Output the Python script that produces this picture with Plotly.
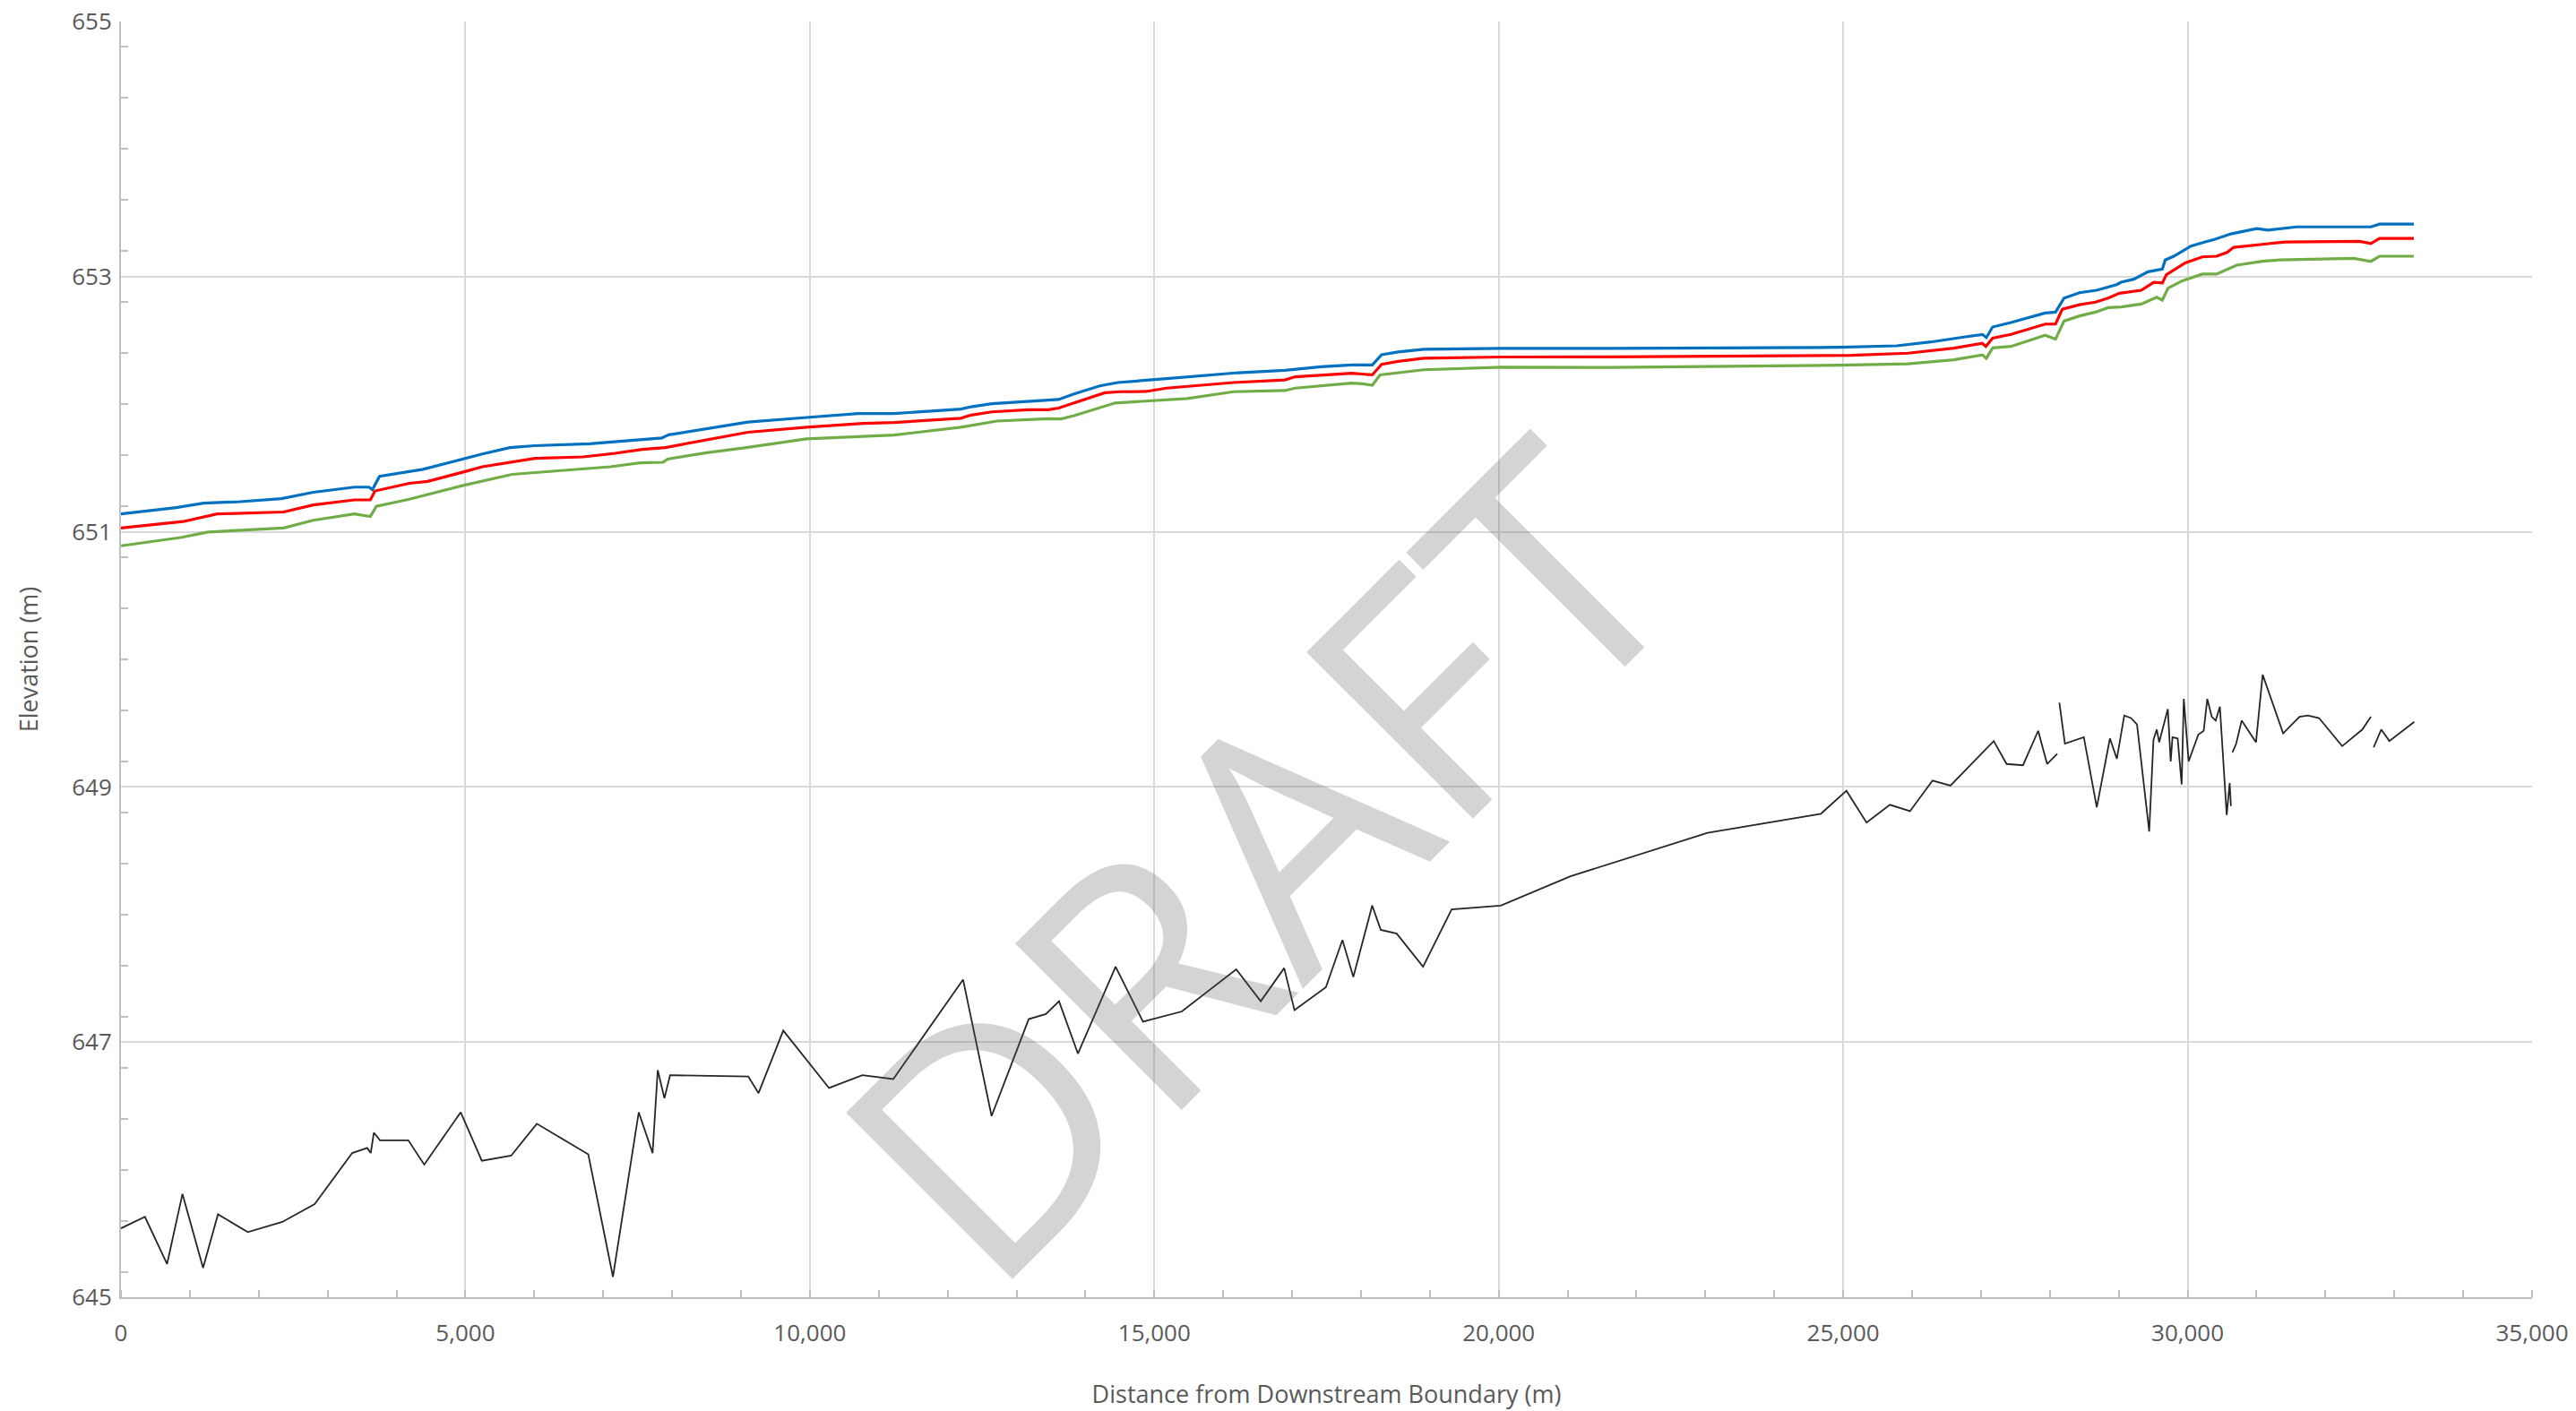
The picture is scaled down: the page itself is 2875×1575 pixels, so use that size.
import plotly.graph_objects as go

# ---------------- data ----------------
blue_x = [0, 800, 1198, 1729, 2326, 2791, 3388, 3600, 3650, 3753,
          4384, 4981, 5246, 5645, 6000, 6800, 7500, 7850, 7950, 8500,
          9100, 9952, 10699, 11221, 12192, 12341, 12640, 13610, 13834, 14208,
          14469, 15178, 16223, 16895, 17418, 17866, 18165, 18299, 18538, 18911,
          20031, 21628, 24946, 25776, 26273, 26771, 27020, 27078, 27169, 27435,
          27932, 28082, 28206, 28430, 28679, 28969, 29035, 29218, 29425, 29633,
          29674, 29799, 30048, 30255, 30379, 30628, 31001, 31167, 31582, 32660,
          32785, 33283]
blue_y = [651.14, 651.19, 651.225, 651.236, 651.26, 651.31, 651.35, 651.35, 651.33, 651.435,
          651.49, 651.576, 651.61, 651.66, 651.675, 651.69, 651.72, 651.735, 651.76, 651.81,
          651.86, 651.896, 651.927, 651.927, 651.962, 651.98, 652.004, 652.037, 652.08, 652.144,
          652.17, 652.20, 652.247, 652.266, 652.294, 652.308, 652.308, 652.388, 652.41, 652.43,
          652.437, 652.437, 652.446, 652.458, 652.488, 652.528, 652.547, 652.523, 652.605, 652.64,
          652.715, 652.722, 652.832, 652.874, 652.893, 652.937, 652.956, 652.98, 653.038, 653.06,
          653.13, 653.16, 653.24, 653.272, 653.29, 653.335, 653.377, 653.365, 653.39, 653.39,
          653.412, 653.412]

red_x = [0, 900, 1397, 2360, 2791, 3388, 3620, 3687, 4185, 4450,
         4981, 5246, 6010, 6706, 7171, 7569, 7900, 8500, 9100, 9952,
         10773, 11221, 12192, 12341, 12640, 13162, 13461, 13610, 13834, 14282,
         14506, 14880, 15178, 16149, 16895, 17045, 17866, 18165, 18299, 18538,
         18911, 20031, 21628, 25112, 25941, 26605, 27020, 27070, 27169, 27435,
         27932, 28082, 28181, 28430, 28662, 28845, 29010, 29326, 29508, 29633,
         29691, 29965, 30213, 30421, 30570, 30669, 31084, 31416, 32495, 32660,
         32785, 33283]
red_y = [651.03, 651.08, 651.14, 651.155, 651.21, 651.25, 651.25, 651.32, 651.38, 651.395,
         651.47, 651.51, 651.576, 651.587, 651.615, 651.646, 651.66, 651.72, 651.78, 651.82,
         651.85, 651.857, 651.89, 651.915, 651.94, 651.957, 651.957, 651.97, 652.01, 652.09,
         652.098, 652.10, 652.126, 652.17, 652.19, 652.215, 652.243, 652.23, 652.313, 652.336,
         652.36, 652.37, 652.371, 652.383, 652.40, 652.44, 652.477, 652.453, 652.518, 652.547,
         652.628, 652.628, 652.745, 652.78, 652.80, 652.832, 652.87, 652.893, 652.956, 652.95,
         653.015, 653.108, 653.155, 653.16, 653.19, 653.23, 653.253, 653.272, 653.277, 653.26,
         653.30, 653.30]

green_x = [0, 867, 1265, 2360, 2791, 3388, 3620, 3707, 4185, 4583,
           4981, 5678, 6043, 7105, 7536, 7868, 7934, 8498, 9029, 9952,
           11221, 12192, 12714, 13461, 13648, 13834, 14432, 15029, 15477, 16149,
           16895, 17045, 17717, 17866, 18016, 18165, 18277, 18538, 18911, 20031,
           21628, 24946, 25941, 26605, 27020, 27078, 27169, 27435, 27932, 28082,
           28206, 28430, 28662, 28845, 29035, 29326, 29550, 29633, 29716, 29923,
           30213, 30421, 30587, 30711, 31084, 31333, 32412, 32660, 32785, 33283]
green_y = [650.89, 650.955, 650.998, 651.03, 651.09, 651.14, 651.12, 651.20, 651.255, 651.31,
           651.365, 651.45, 651.466, 651.51, 651.54, 651.545, 651.57, 651.62, 651.657, 651.728,
           651.758, 651.82, 651.868, 651.887, 651.885, 651.91, 652.01, 652.027, 652.044, 652.098,
           652.107, 652.126, 652.154, 652.165, 652.16, 652.149, 652.23, 652.247, 652.27, 652.29,
           652.289, 652.306, 652.317, 652.348, 652.387, 652.36, 652.441, 652.453, 652.54, 652.51,
           652.652, 652.692, 652.722, 652.757, 652.762, 652.785, 652.839, 652.816, 652.91, 652.968,
           653.02, 653.02, 653.06, 653.09, 653.12, 653.131, 653.143, 653.12, 653.16, 653.16]

bed_x = [0, 348, 669, 893, 1192, 1408, 1841, 2342, 2812, 3357,
         3574, 3626, 3671, 3760, 4171, 4402, 4932, 5238, 5664, 6037,
         6784, 7142, 7516, 7717, 7792, 7889, 7971, 9106, 9255, 9614,
         10278, 10763, 11211, 12224, 12638, 13177, 13426, 13617, 13891, 14438,
         14836, 15400, 16189, 16545, 16885, 17035, 17491, 17731, 17889, 18163,
         18287, 18519, 18901, 19316, 20029, 21041, 23032, 24677, 25047, 25339,
         25678, 25969, 26297, 26557, 27185, 27372, 27610, 27830, 27960, 28107,
         None,
         28138, 28218, 28493, 28681, 28872, 28972, 29080, 29177, 29265, 29442,
         29504, 29552, 29587, 29655, 29712, 29754, 29780, 29855, 29913, 29944,
         30014, 30155, 30233, 30285, 30350, 30407, 30468, 30567, 30610, 30628,
         None,
         30650, 30705, 30784, 30992, 31089, 31386, 31623, 31746, 31907, 32243,
         32536, 32660,
         None,
         32700, 32810, 32928, 33290]
bed_y = [645.54, 645.63, 645.26, 645.81, 645.23, 645.65, 645.51, 645.59, 645.73, 646.13,
         646.17, 646.13, 646.29, 646.23, 646.23, 646.04, 646.45, 646.07, 646.11, 646.36,
         646.12, 645.16, 646.45, 646.13, 646.78, 646.56, 646.74, 646.73, 646.60, 647.09,
         646.64, 646.74, 646.71, 647.49, 646.42, 647.18, 647.22, 647.32, 646.91, 647.59,
         647.16, 647.24, 647.57, 647.32, 647.58, 647.25, 647.43, 647.80, 647.51, 648.07,
         647.88, 647.85, 647.59, 648.04, 648.07, 648.30, 648.64, 648.79, 648.97, 648.72,
         648.86, 648.81, 649.05, 649.01, 649.36, 649.18, 649.17, 649.44, 649.18, 649.26,
         None,
         649.66, 649.34, 649.39, 648.84, 649.38, 649.22, 649.56, 649.54, 649.49, 648.65,
         649.37, 649.45, 649.35, 649.50, 649.61, 649.20, 649.39, 649.38, 649.02, 649.69,
         649.20, 649.41, 649.44, 649.69, 649.55, 649.52, 649.63, 648.78, 649.03, 648.85,
         None,
         649.27, 649.34, 649.52, 649.35, 649.88, 649.42, 649.55, 649.56, 649.54, 649.32,
         649.45, 649.55,
         None,
         649.31, 649.45, 649.36, 649.51]

x_ticks = [0, 5000, 10000, 15000, 20000, 25000, 30000, 35000]
y_ticks = [645, 647, 649, 651, 653, 655]

for a, b in [(blue_x, blue_y), (red_x, red_y), (green_x, green_y), (bed_x, bed_y)]:
    assert len(a) == len(b), (len(a), len(b))

# ---------------- figure ----------------
TXT = "#595959"
GRID = "#d9d9d9"
AXIS = "#bfbfbf"
FONT = "Open Sans"

fig = go.Figure()
fig.add_trace(go.Scatter(x=bed_x, y=bed_y, mode="lines",
                         line=dict(color="#262626", width=1.8), connectgaps=False))
fig.add_trace(go.Scatter(x=green_x, y=green_y, mode="lines",
                         line=dict(color="#70ad47", width=3.2)))
fig.add_trace(go.Scatter(x=red_x, y=red_y, mode="lines",
                         line=dict(color="#ff0000", width=3.2)))
fig.add_trace(go.Scatter(x=blue_x, y=blue_y, mode="lines",
                         line=dict(color="#0070c0", width=3.2)))

fig.add_annotation(text="DRAFT", xref="paper", yref="paper", x=0.470, y=0.345,
                   showarrow=False, textangle=-45,
                   font=dict(family=FONT, size=368, color="rgba(90,90,90,0.26)"))

fig.update_layout(
    width=2875, height=1575, autosize=False,
    margin=dict(l=135, r=49, t=24, b=127),
    paper_bgcolor="white", plot_bgcolor="white",
    showlegend=False,
    font=dict(family=FONT, size=26, color=TXT),
)
fig.update_xaxes(
    range=[0, 35000], tickvals=x_ticks, tickformat=",d",
    showgrid=True, gridcolor=GRID, gridwidth=2,
    showline=True, linecolor=AXIS, linewidth=2,
    ticks="", ticklabelstandoff=16, zeroline=False, ticklabeloverflow="allow",
    minor=dict(dtick=1000, ticks="inside", ticklen=8, tickcolor=AXIS, tickwidth=2, showgrid=False),
    title=dict(text="Distance from Downstream Boundary (m)", font=dict(size=27, color=TXT), standoff=43),
    automargin=False,
)
fig.update_yaxes(
    range=[645, 655], tickvals=y_ticks,
    showgrid=True, gridcolor=GRID, gridwidth=2,
    showline=True, linecolor=AXIS, linewidth=2,
    ticks="", ticklabelstandoff=3, zeroline=False, ticklabeloverflow="allow",
    minor=dict(dtick=0.4, ticks="inside", ticklen=8, tickcolor=AXIS, tickwidth=2, showgrid=False),
    title=dict(text="Elevation (m)", font=dict(size=27, color=TXT), standoff=30),
    automargin=False,
)

fig.write_html("out.html", config={"displayModeBar": False},
               post_script="document.body.style.margin='0';")
